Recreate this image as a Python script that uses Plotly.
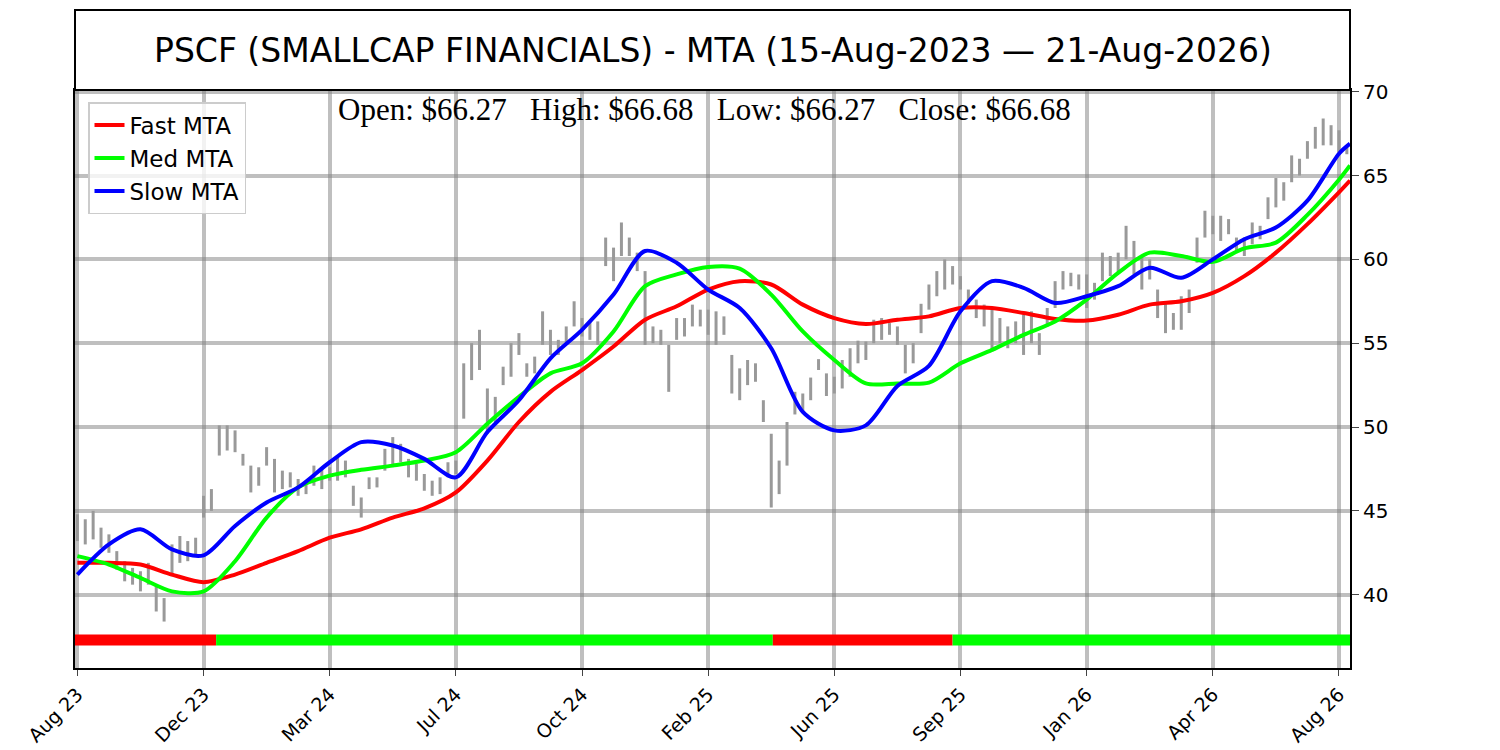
import plotly.graph_objects as go

# x positions are "slots": 16 slots between two neighbouring date ticks
tick_labels = ["Aug 23", "Dec 23", "Mar 24", "Jul 24", "Oct 24", "Feb 25",
               "Jun 25", "Sep 25", "Jan 26", "Apr 26", "Aug 26"]
tick_slots = [0, 16, 32, 48, 64, 80, 96, 112, 128, 144, 160]

# price bars (low / high), one per slot
bar_low = [43.2, 43.0, 43.3, 42.8, 42.5, 41.5, 40.8, 40.6, 40.2, 40.6,
           39.0, 38.4, 41.1, 41.9, 42.0, 42.4, 44.6, 45.0, 48.3, 48.6,
           48.5, 47.7, 46.1, 46.5, 47.7, 46.1, 46.3, 46.4, 45.9, 46.0,
           46.5, 46.3, 46.8, 46.8, 47.0, 45.3, 44.6, 46.3, 46.4, 47.4,
           47.7, 47.9, 47.0, 46.8, 46.2, 45.9, 46.0, 47.0, 47.2, 50.5,
           52.8, 53.4, 49.6, 50.3, 52.5, 53.0, 54.3, 53.0, 53.2, 54.9,
           54.3, 54.3, 55.0, 56.0, 55.4, 55.2, 54.9, 59.6, 58.7, 60.2,
           60.2, 59.3, 54.9, 55.0, 54.9, 52.1, 55.2, 55.4, 56.0, 56.0,
           55.5, 54.9, 55.5, 52.0, 51.6, 52.5, 52.7, 50.3, 45.2, 46.0,
           47.7, 50.75, 50.9, 51.6, 53.4, 51.85, 52.0, 52.3, 53.0, 53.8,
           54.0, 55.0, 55.2, 55.5, 54.9, 53.2, 53.8, 55.6, 57.0, 57.8,
           58.2, 58.5, 58.2, 57.35, 56.5, 56.0, 54.5, 55.0, 54.7, 55.0,
           54.3, 55.0, 54.3, 56.0, 57.1, 58.2, 58.4, 58.2, 57.1, 57.6,
           58.7, 59.0, 59.2, 60.0, 59.1, 58.2, 58.8, 56.5, 55.6, 55.8,
           55.8, 56.8, 59.8, 61.3, 61.5, 61.1, 61.5, 60.5, 60.2, 60.9,
           61.2, 62.4, 63.1, 63.5, 64.6, 65.0, 66.0, 66.6, 66.8, 66.8,
           66.4, 66.27]
bar_high = [44.8, 44.5, 45.0, 44.0, 43.6, 42.6, 42.0, 41.6, 41.4, 41.9,
            40.6, 39.8, 43.0, 43.5, 43.2, 43.4, 45.9, 46.3, 50.1, 50.1,
            49.8, 48.4, 47.7, 47.6, 48.8, 48.1, 47.4, 47.3, 46.9, 46.8,
            47.7, 47.5, 47.6, 48.3, 48.0, 46.5, 45.8, 47.0, 47.0, 48.7,
            49.4, 49.0, 48.1, 47.8, 47.2, 46.8, 47.0, 47.9, 48.0, 53.8,
            55.0, 55.8, 52.3, 51.8, 53.6, 55.0, 55.6, 53.8, 54.2, 56.9,
            55.8, 55.2, 56.0, 57.5, 56.5, 56.3, 56.3, 61.3, 60.7, 62.2,
            61.3, 60.4, 59.3, 56.0, 55.8, 54.9, 56.5, 56.5, 57.3, 57.0,
            57.0, 56.9, 56.6, 54.3, 53.5, 54.0, 53.8, 51.6, 49.6, 48.0,
            50.3, 52.1, 52.0, 52.95, 54.05, 53.2, 53.0, 54.0, 54.7, 55.15,
            55.1, 56.4, 56.5, 56.2, 56.0, 54.9, 55.0, 57.35, 58.5, 59.3,
            60.0, 59.6, 59.0, 58.2, 57.6, 57.3, 57.1, 56.5, 56.0, 56.3,
            56.7, 56.9, 55.6, 57.1, 58.7, 59.3, 59.2, 59.1, 59.1, 58.6,
            60.4, 60.2, 60.4, 62.0, 61.1, 60.2, 60.0, 58.2, 57.35, 56.8,
            57.8, 58.2, 61.3, 62.9, 62.6, 62.6, 62.4, 61.3, 61.3, 62.2,
            62.0, 63.7, 64.85, 64.6, 66.2, 66.0, 67.05, 67.9, 68.4, 68.0,
            67.7, 66.68]

# moving trend averages, sampled every 4 slots
ma_slots = [0, 4, 8, 12, 16, 20, 24, 28, 32, 36, 40, 44, 48, 52, 56, 60,
            64, 68, 72, 76, 80, 84, 88, 92, 96, 100, 104, 108, 112, 116,
            120, 124, 128, 132, 136, 140, 144, 148, 152, 156, 160, 161.4]
fast_mta = [41.9, 41.9, 41.8, 41.2, 40.75, 41.2, 41.9, 42.6, 43.4, 43.9,
            44.6, 45.15, 46.1, 48.0, 50.3, 52.1, 53.4, 54.8, 56.4, 57.2,
            58.2, 58.7, 58.5, 57.3, 56.5, 56.15, 56.4, 56.6, 57.1, 57.1,
            56.8, 56.45, 56.35, 56.7, 57.3, 57.5, 58.0, 59.0, 60.4, 62.1,
            64.0, 64.7]
med_mta = [42.3, 41.8, 41.0, 40.2, 40.2, 42.0, 44.6, 46.4, 47.1, 47.45,
           47.7, 48.0, 48.5, 50.2, 51.8, 53.2, 53.8, 55.7, 58.4, 59.1,
           59.55, 59.45, 57.9, 55.7, 54.0, 52.6, 52.6, 52.65, 53.8, 54.6,
           55.5, 56.3, 57.6, 59.2, 60.4, 60.2, 59.85, 60.65, 61.0, 62.65,
           64.75, 65.6]
slow_mta = [41.2, 43.0, 43.9, 42.7, 42.35, 44.1, 45.5, 46.4, 47.9, 49.1,
            48.9, 48.1, 47.0, 49.7, 51.6, 54.1, 55.8, 57.9, 60.5, 59.8,
            58.2, 57.1, 54.7, 50.9, 49.8, 50.1, 52.45, 53.65, 56.9, 58.7,
            58.3, 57.4, 57.8, 58.4, 59.5, 58.9, 60.0, 61.2, 61.9, 63.5,
            66.3, 66.9]

# trend signal: (from slot, to slot, state)
signal_segments = [(-0.3, 17.6, "down"), (17.6, 88.2, "up"),
                   (88.2, 111.0, "down"), (111.0, 161.4, "up")]
signal_level = 37.3

last_open, last_high, last_low, last_close = 66.27, 66.68, 66.27, 66.68
title_text = "PSCF (SMALLCAP FINANCIALS) - MTA (15-Aug-2023 \u2014 21-Aug-2026)"

fig = go.Figure()

# OHLC bars as thin vertical segments
bx, by = [], []
for i, (lo, hi) in enumerate(zip(bar_low, bar_high)):
    bx += [i, i, None]
    by += [lo, hi, None]
fig.add_trace(go.Scatter(x=bx, y=by, mode="lines", line=dict(color="#999999", width=3),
                         showlegend=False, hoverinfo="skip"))

for name, vals, color in [("Fast MTA", fast_mta, "#ff0000"),
                          ("Med MTA", med_mta, "#00ff00"),
                          ("Slow MTA", slow_mta, "#0000ff")]:
    fig.add_trace(go.Scatter(x=ma_slots, y=vals, mode="lines", name=name,
                             line=dict(color=color, width=4, shape="spline", smoothing=0.8)))

sig_colors = {"up": "#00ff00", "down": "#ff0000"}
for x0, x1, state in signal_segments:
    fig.add_trace(go.Scatter(x=[x0, x1], y=[signal_level, signal_level], mode="lines",
                             line=dict(color=sig_colors[state], width=11),
                             showlegend=False, hoverinfo="skip"))

# title box above the plot
fig.add_shape(type="rect", xref="paper", yref="paper", x0=0, x1=1, y0=1, y1=1.1384,
              line=dict(color="black", width=2), fillcolor="white")
fig.add_annotation(text=title_text, xref="paper", yref="paper", x=0.5, y=1.069,
                   xanchor="center", yanchor="middle", showarrow=False,
                   font=dict(family="DejaVu Sans", size=33, color="black"))

sp = "\u00a0\u00a0\u00a0"
ohlc_text = (f"Open: ${last_open:.2f}{sp}High: ${last_high:.2f}{sp}"
             f"Low: ${last_low:.2f}{sp}Close: ${last_close:.2f}")
fig.add_annotation(text=ohlc_text, xref="paper", yref="paper", x=0.494, y=0.966,
                   xanchor="center", yanchor="middle", showarrow=False,
                   font=dict(family="Liberation Serif", size=31, color="black"))

# the page puts the figure 8px in from the top-left corner
fig.update_layout(
    width=1492, height=742,
    margin=dict(l=67, r=150, t=82, b=82),
    plot_bgcolor="white", paper_bgcolor="white",
    font=dict(family="DejaVu Sans", color="black"),
    legend=dict(x=0.0102, y=0.979, xanchor="left", yanchor="top",
                bgcolor="rgba(255,255,255,0.8)", bordercolor="#cccccc", borderwidth=1.5,
                font=dict(size=23), itemwidth=30, tracegroupgap=0),
    xaxis=dict(range=[-0.3, 161.4], tickmode="array", tickvals=tick_slots, ticktext=tick_labels,
               tickangle=-45, tickfont=dict(size=19), ticks="outside", ticklen=6,
               showgrid=True, gridcolor="rgba(128,128,128,0.5)", gridwidth=4,
               showline=True, linecolor="black", linewidth=2, mirror=True, zeroline=False,
               automargin=False),
    yaxis=dict(range=[35.63, 70.1], side="right", tickvals=[40, 45, 50, 55, 60, 65, 70],
               tickfont=dict(size=20), ticks="outside", ticklen=7,
               showgrid=True, gridcolor="rgba(128,128,128,0.5)", gridwidth=4,
               showline=True, linecolor="black", linewidth=2, mirror=True, zeroline=False,
               automargin=False),
)

fig.write_html("out.html")
